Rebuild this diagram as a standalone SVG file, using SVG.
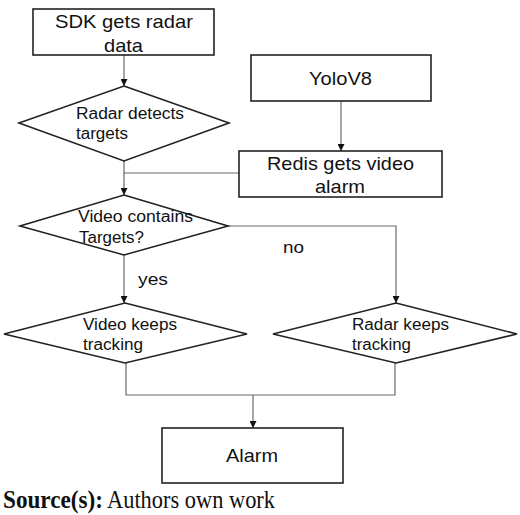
<svg xmlns="http://www.w3.org/2000/svg" width="520" height="515" viewBox="0 0 520 515">
<style>
.box{fill:#fff;stroke:#222;stroke-width:1.6}
.dia{fill:#fff;stroke:#222;stroke-width:1.6}
.con{fill:none;stroke:#6a6a6a;stroke-width:1.2}
.bt{font-family:"Liberation Sans",Arial,sans-serif;font-size:19px;fill:#111}
.dt{font-family:"Liberation Sans",Arial,sans-serif;font-size:16px;fill:#111}
.ft{font-family:"Liberation Serif","Times New Roman",serif;font-size:26px;fill:#111}
</style>
<defs>
<marker id="ah" viewBox="0 0 10 10" refX="10" refY="5" markerWidth="7" markerHeight="7" markerUnits="userSpaceOnUse" orient="auto">
<path d="M0,0 L10,5 L0,10 z" fill="#111"/>
</marker>
</defs>
<rect width="520" height="515" fill="#fff"/>
<g id="connectors">
<line class="con" x1="124" y1="55" x2="124" y2="86" marker-end="url(#ah)"/>
<line class="con" x1="341" y1="101" x2="341" y2="151" marker-end="url(#ah)"/>
<polyline class="con" points="124,161 124,173 239,173"/>
<line class="con" x1="124" y1="173" x2="124" y2="195" marker-end="url(#ah)"/>
<line class="con" x1="124" y1="255" x2="124" y2="303" marker-end="url(#ah)"/>
<polyline class="con" points="228,226 396,226 396,303" marker-end="url(#ah)"/>
<polyline class="con" points="126,363 126,395 395,395 395,363"/>
<line class="con" x1="253" y1="395" x2="253" y2="428" marker-end="url(#ah)"/>
<text class="dt" x="283" y="253" font-size="18" textLength="21" lengthAdjust="spacingAndGlyphs">no</text>
<text class="dt" x="138" y="285" font-size="18" textLength="30" lengthAdjust="spacingAndGlyphs">yes</text>
</g>
<g id="sdk">
<rect class="box" x="33" y="9" width="181" height="46"/>
<text class="bt" x="55" y="28" textLength="138" lengthAdjust="spacingAndGlyphs">SDK gets radar</text>
<text class="bt" x="104" y="52" textLength="39" lengthAdjust="spacingAndGlyphs">data</text>
</g>
<g id="radar-detects">
<polygon class="dia" points="124,86 229,123 124,161 19,123"/>
<text class="dt" x="76" y="119" textLength="108" lengthAdjust="spacingAndGlyphs">Radar detects</text>
<text class="dt" x="76" y="139" textLength="52" lengthAdjust="spacingAndGlyphs">targets</text>
</g>
<g id="yolo">
<rect class="box" x="251" y="55" width="180" height="46"/>
<text class="bt" x="309" y="85" textLength="63" lengthAdjust="spacingAndGlyphs">YoloV8</text>
</g>
<g id="redis">
<rect class="box" x="239" y="151" width="203" height="46"/>
<text class="bt" x="267" y="170" textLength="147" lengthAdjust="spacingAndGlyphs">Redis gets video</text>
<text class="bt" x="315" y="193" textLength="50" lengthAdjust="spacingAndGlyphs">alarm</text>
</g>
<g id="video-contains">
<polygon class="dia" points="124,195 228,226 124,255 20,226"/>
<text class="dt" x="78" y="222" textLength="115" lengthAdjust="spacingAndGlyphs">Video contains</text>
<text class="dt" x="79" y="243" textLength="65" lengthAdjust="spacingAndGlyphs">Targets?</text>
</g>
<g id="video-keeps">
<polygon class="dia" points="125,303 247,334 125,363 4,334"/>
<text class="dt" x="83" y="330" textLength="94" lengthAdjust="spacingAndGlyphs">Video keeps</text>
<text class="dt" x="83" y="350" textLength="60" lengthAdjust="spacingAndGlyphs">tracking</text>
</g>
<g id="radar-keeps">
<polygon class="dia" points="396,303 517,334 396,363 273,334"/>
<text class="dt" x="352" y="330" textLength="97" lengthAdjust="spacingAndGlyphs">Radar keeps</text>
<text class="dt" x="352" y="350" textLength="59" lengthAdjust="spacingAndGlyphs">tracking</text>
</g>
<g id="alarm">
<rect class="box" x="162" y="428" width="181" height="55"/>
<text class="bt" x="226" y="462" textLength="52" lengthAdjust="spacingAndGlyphs">Alarm</text>
</g>
<g id="caption">
<text class="ft" x="3" y="508" font-weight="bold" textLength="100" lengthAdjust="spacingAndGlyphs">Source(s):</text>
<text class="ft" x="107" y="508" textLength="168" lengthAdjust="spacingAndGlyphs">Authors own work</text>
</g>
</svg>
